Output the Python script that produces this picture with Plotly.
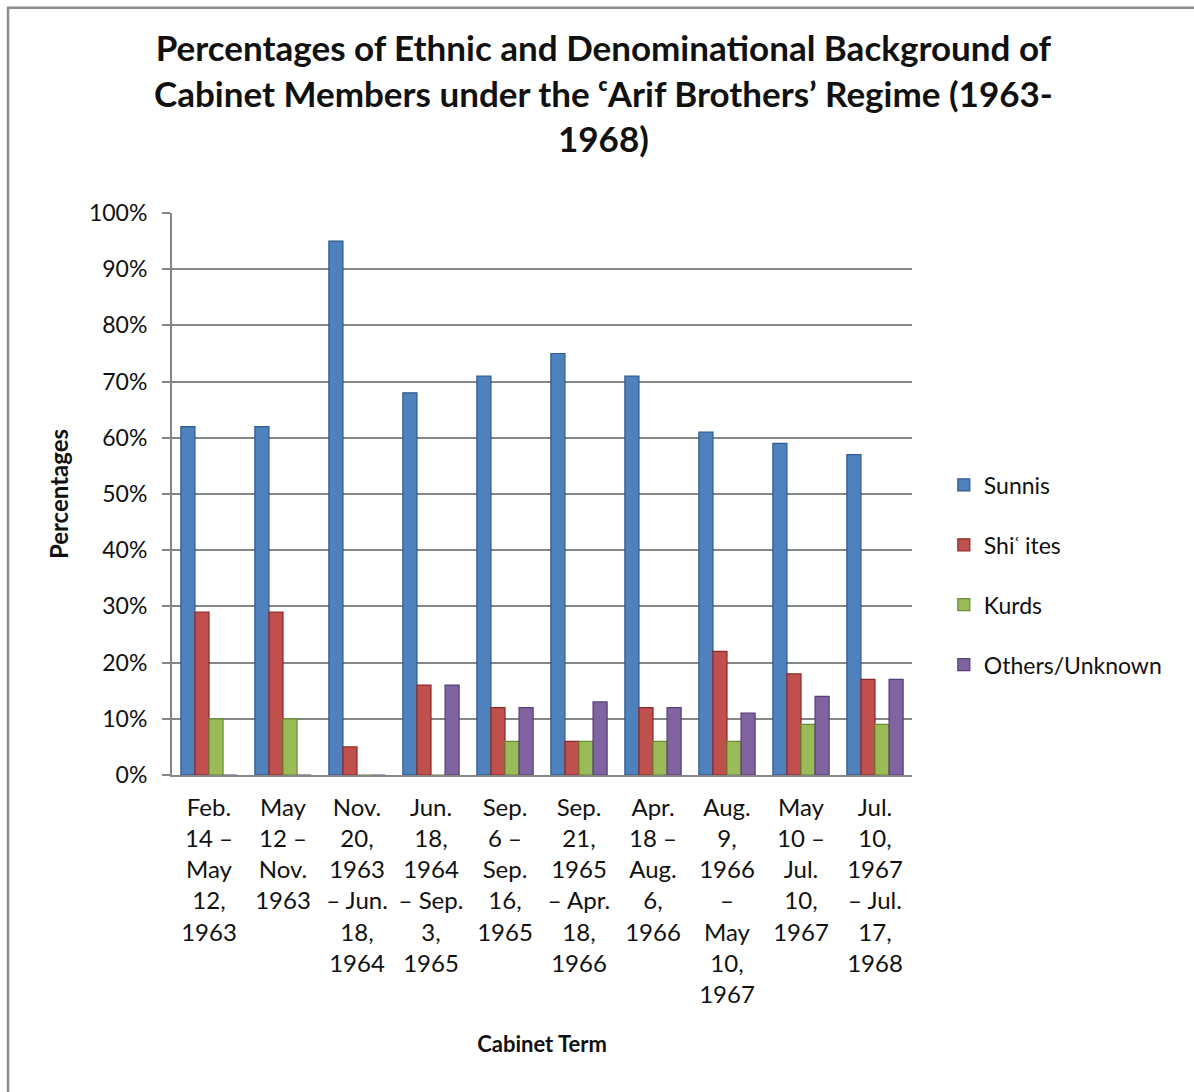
import plotly.graph_objects as go

# Cabinet terms (x-axis categories, wrapped as they appear under the axis)
terms = [
    "Feb.<br>14 –<br>May<br>12,<br>1963",
    "May<br>12 –<br>Nov.<br>1963",
    "Nov.<br>20,<br>1963<br>– Jun.<br>18,<br>1964",
    "Jun.<br>18,<br>1964<br>– Sep.<br>3,<br>1965",
    "Sep.<br>6 –<br>Sep.<br>16,<br>1965",
    "Sep.<br>21,<br>1965<br>– Apr.<br>18,<br>1966",
    "Apr.<br>18 –<br>Aug.<br>6,<br>1966",
    "Aug.<br>9,<br>1966<br>–<br>May<br>10,<br>1967",
    "May<br>10 –<br>Jul.<br>10,<br>1967",
    "Jul.<br>10,<br>1967<br>– Jul.<br>17,<br>1968",
]

# Share of cabinet members (%) per group
sunnis = [62, 62, 95, 68, 71, 75, 71, 61, 59, 57]
shiites = [29, 29, 5, 16, 12, 6, 12, 22, 18, 17]
kurds = [10, 10, 0, 0, 6, 6, 6, 6, 9, 9]
others = [0, 0, 0, 16, 12, 13, 12, 11, 14, 17]

series = [
    ("Sunnis", sunnis, "#4F81BD", "#2C5A91"),
    ("Shiʿ ites", shiites, "#C0504D", "#8B2B29"),
    ("Kurds", kurds, "#9BBB59", "#6A8A33"),
    ("Others/Unknown", others, "#8064A2", "#553F74"),
]

y_ticks = [0, 10, 20, 30, 40, 50, 60, 70, 80, 90, 100]

font_family = "Lato, 'Open Sans', sans-serif"

fig = go.Figure()
for name, vals, color, edge in series:
    fig.add_trace(go.Bar(
        x=terms, y=vals, name=name, legendgroup=name,
        marker=dict(color=color, line=dict(color=edge, width=1.2)),
    ))

fig.update_layout(
    width=1194, height=1092,
    paper_bgcolor="white", plot_bgcolor="white",
    font=dict(family=font_family, size=23, color="#111111"),
    barmode="group", bargap=0.24, bargroupgap=0.0,
    margin=dict(l=172, r=282, t=213, b=317),
    showlegend=True,
    legend=dict(
        x=1.043, xanchor="left", y=0.356, yanchor="middle",
        font=dict(size=23), tracegroupgap=27,
        traceorder="grouped",
    ),
    xaxis=dict(
        showgrid=False, tickangle=0, ticks="", showline=True,
        linecolor="#868686", linewidth=2,
        tickfont=dict(size=24), ticklabelstandoff=10,
        title=dict(text="<b>Cabinet Term</b>", font=dict(size=22), standoff=30),
    ),
    yaxis=dict(
        range=[0, 100], tickvals=y_ticks,
        ticktext=[f"{v}%" for v in y_ticks],
        showgrid=True, gridcolor="#868686", gridwidth=2,
        showline=True, linecolor="#868686", linewidth=2,
        ticks="outside", ticklen=8, tickcolor="#868686", tickwidth=2,
        ticklabelstandoff=10,
        tickfont=dict(size=23), zeroline=False,
        title=dict(text="<b>Percentages</b>", font=dict(size=24), standoff=14),
    ),
    annotations=[dict(
        text="<b>Percentages of Ethnic and Denominational Background of<br>"
             "Cabinet Members under the ᶜArif Brothers’ Regime (1963-<br>1968)</b>",
        xref="paper", yref="paper", x=0.583, y=1.092,
        xanchor="center", yanchor="bottom", showarrow=False,
        font=dict(size=35, family=font_family, color="#111111"),
    )],
    shapes=[dict(
        type="rect", xref="paper", yref="paper",
        x0=-0.2216, x1=1.5, y0=-0.7, y1=1.365,
        line=dict(color="#8C8C8C", width=2.5), fillcolor="rgba(0,0,0,0)",
        layer="below",
    )],
)

fig.write_html("out.html")
